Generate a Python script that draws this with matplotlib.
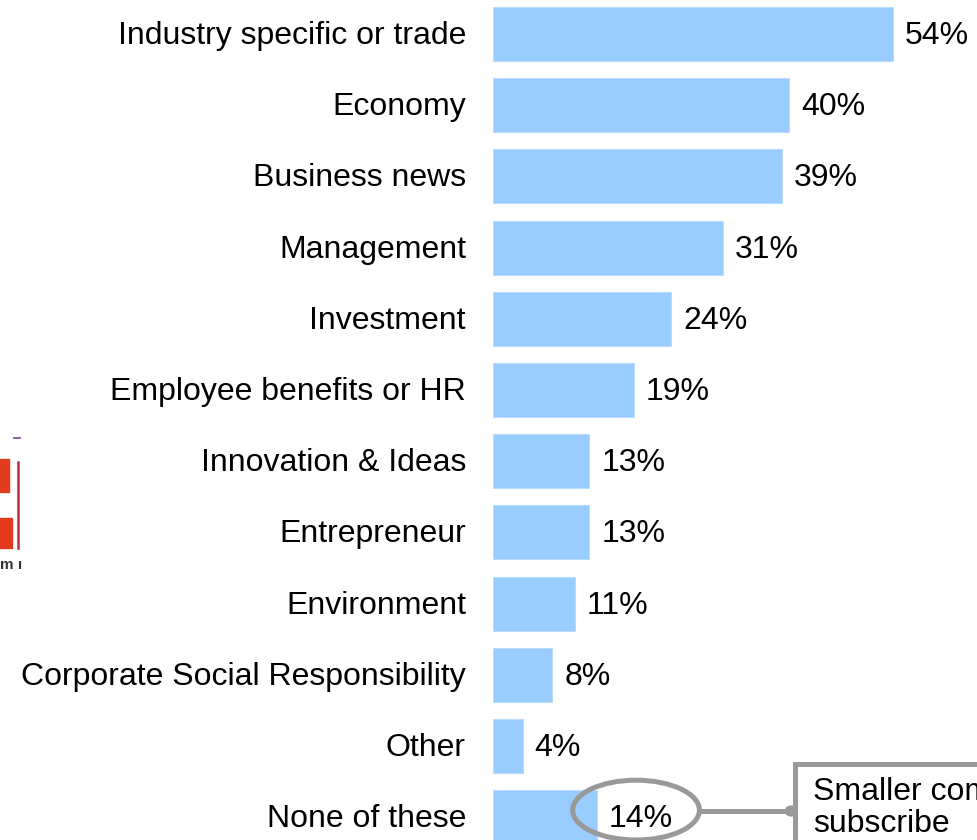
import matplotlib.pyplot as plt
from matplotlib.patches import Ellipse, Rectangle, Circle
from matplotlib.lines import Line2D

plt.rcParams['font.family'] = ['Liberation Sans', 'DejaVu Sans']

topics = ['Industry specific or trade', 'Economy', 'Business news', 'Management',
          'Investment', 'Employee benefits or HR', 'Innovation & Ideas',
          'Entrepreneur', 'Environment', 'Corporate Social Responsibility',
          'Other', 'None of these']
shares = [54, 40, 39, 31, 24, 19, 13, 13, 11, 8, 4, 14]
callout_text = 'Smaller companies\nsubscribe'

W, H = 977, 840
BAR = '#99CCFF'
GREY = '#999999'
FS = 23


def fx(px):
    return px / W


def fy(py):
    return 1 - py / H


fig = plt.figure(figsize=(W / 100, H / 100), dpi=100)
ax = fig.add_axes([fx(493), 0, fx(W - 493), 1])
ax.set_xlim(0, 65.3)
ax.set_ylim(11.32, -0.478)
ax.axis('off')

pos = list(range(len(topics)))
ax.barh(pos, shares, height=0.76, color=BAR, edgecolor='#b8dcff', linewidth=0.8)

for i, (name, v) in enumerate(zip(topics, shares)):
    ax.annotate(name, (0, i), xytext=(-27, -2), textcoords='offset pixels',
                ha='right', va='center', fontsize=FS, annotation_clip=False)
    ax.annotate(f'{v}%', (v, i), xytext=(12, -2), textcoords='offset pixels',
                ha='left', va='center', fontsize=FS)

# ring around the "None of these" value
last = len(shares) - 1
ring = Ellipse((shares[last] + 5.3, last - 0.1), width=17.1, height=0.84,
               fill=False, edgecolor=GREY, linewidth=3.6, zorder=3)
ax.add_patch(ring)

# connector and callout box
fig.add_artist(Line2D([fx(700), fx(795)], [fy(811), fy(811)], color=GREY,
                      linewidth=3.6, transform=fig.transFigure))
fig.add_artist(Circle((fx(791), fy(811)), 0.0058, color=GREY,
                      transform=fig.transFigure))
fig.add_artist(Rectangle((fx(795), fy(860)), fx(220), fy(764) - fy(860),
                         fill=False, edgecolor=GREY, linewidth=3.6,
                         transform=fig.transFigure))
fig.text(fx(813), fy(808), callout_text, fontsize=FS, ha='left', va='center',
         linespacing=1.05)

# clipped logo fragment at the left edge
fig.add_artist(Rectangle((0, fy(492)), fx(9), fy(459) - fy(492),
                         color='#E23B1E', transform=fig.transFigure))
fig.add_artist(Rectangle((0, fy(548)), fx(12), fy(518) - fy(548),
                         color='#E23B1E', transform=fig.transFigure))
fig.add_artist(Line2D([fx(18), fx(18)], [fy(462), fy(548)], color='#B8303F',
                      linewidth=1.8, transform=fig.transFigure))
fig.add_artist(Line2D([fx(14), fx(20)], [fy(438), fy(438)], color='#7A3FA0',
                      linewidth=1.2, transform=fig.transFigure))
fig.text(0, fy(565), 'm ı', fontsize=11, fontweight='bold', color='#333333',
         ha='left', va='center')

fig.savefig('out.png', dpi=100, facecolor='white')
